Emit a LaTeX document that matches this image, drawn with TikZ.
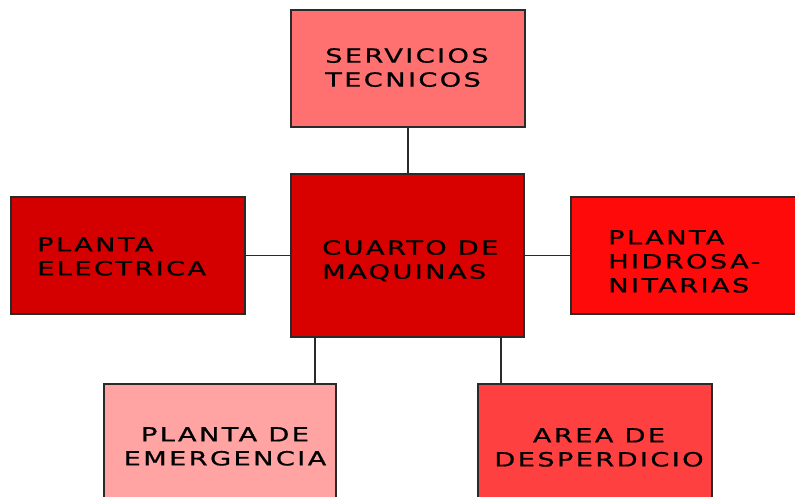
\documentclass[tikz,border=0pt]{standalone}
\usepackage{fontspec}
\newfontfamily\boxfont[FakeStretch=1.4,LetterSpace=12,FakeBold=0.8]{DejaVu Sans}
\definecolor{cServ}{HTML}{FF7070}
\definecolor{cCuarto}{HTML}{D90000}
\definecolor{cElec}{HTML}{D40000}
\definecolor{cHidro}{HTML}{FF0A0A}
\definecolor{cEmerg}{HTML}{FFA3A3}
\definecolor{cArea}{HTML}{FF4040}
\definecolor{cLine}{HTML}{2A2A2A}
\tikzset{
  box/.style={draw=cLine, line width=1.5pt, rectangle, inner sep=0pt},
  txt/.style={inner sep=0pt, text=black, font={\boxfont\fontsize{19.5}{24}\selectfont}},
  link/.style={draw=cLine, line width=1.3pt}
}
\begin{document}
\begin{tikzpicture}[x=1pt,y=-1pt]
\useasboundingbox (0,0) rectangle (795,497);
\clip (0,0) rectangle (795,497);
\fill[white] (0,0) rectangle (795,497);
% boxes
\node[box, fill=cServ, minimum width=234pt, minimum height=117pt] (serv) at (408,68.5) {};
\node[box, fill=cCuarto, minimum width=233pt, minimum height=163pt] (cuarto) at (407.5,255.5) {};
\node[box, fill=cElec, minimum width=234pt, minimum height=117pt] (elec) at (128,255.5) {};
\node[box, fill=cHidro, minimum width=234pt, minimum height=117pt] (hidro) at (688,255.5) {};
\node[box, fill=cEmerg, minimum width=232pt, minimum height=117pt] (emerg) at (220,442.5) {};
\node[box, fill=cArea, minimum width=234pt, minimum height=117pt] (area) at (595,442.5) {};
% connectors
\coordinate (c0) at (408,127);
\coordinate (c1) at (315,337);
\coordinate (c2) at (501,337);
\draw[link] (c0) -- (c0 |- cuarto.north);
\draw[link] (elec.east) -- (elec.east -| cuarto.west);
\draw[link] (hidro.west) -- (hidro.west -| cuarto.east);
\draw[link] (c1) -- (c1 |- emerg.north);
\draw[link] (c2) -- (c2 |- area.north);
% texts
\node[txt, anchor=north west, align=left] (servt) at (325,48) {SERVICIOS\\TECNICOS};
\node[txt, anchor=north west, align=left] (cuartot) at (322,240) {CUARTO DE\\MAQUINAS};
\node[txt, anchor=north west, align=left] (elect) at (37,237) {PLANTA\\ELECTRICA};
\node[txt, anchor=north west, align=left] (hidrot) at (608,230) {PLANTA\\HIDROSA-\\NITARIAS};
\node[txt, anchor=north, align=center] (emergt) at (225,427) {PLANTA DE\\EMERGENCIA};
\node[txt, anchor=north, align=center] (areat) at (599,428) {AREA DE\\DESPERDICIO};
\end{tikzpicture}
\end{document}
